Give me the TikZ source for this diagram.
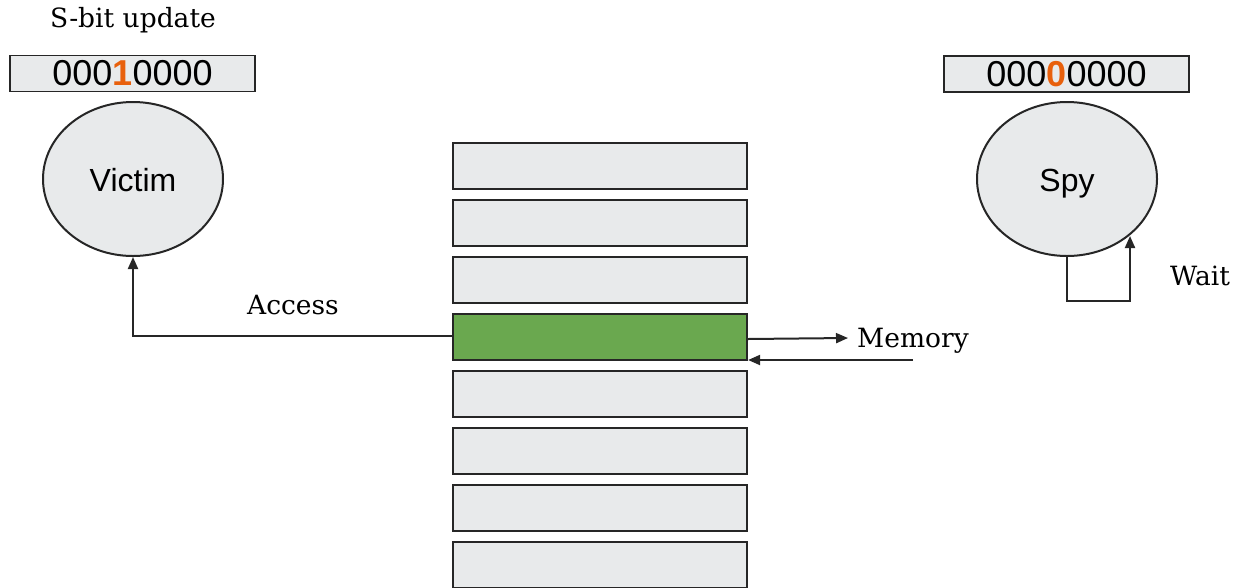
\documentclass[tikz,border=0pt]{standalone}
\usepackage{fontspec}
\setmainfont{DejaVu Serif}
\newfontfamily\arialf{Liberation Sans}
\usetikzlibrary{arrows.meta,shapes.geometric}
\definecolor{boxgray}{HTML}{E8EAEB}
\definecolor{memgreen}{HTML}{6AA84F}
\definecolor{bitorange}{HTML}{E8600C}
\tikzset{
  lbl/.style={font=\fontsize{26.5}{30}\selectfont, inner sep=0pt},
  regbox/.style={draw=black!85, line width=1.8pt, fill=boxgray, minimum width=245pt, minimum height=36pt, inner sep=0pt, font=\arialf\fontsize{36}{40}\selectfont},
  proc/.style={ellipse, draw=black!85, line width=2pt, fill=boxgray, minimum width=180pt, minimum height=154pt, inner sep=0pt, text height=30pt, text depth=6pt, font=\arialf\fontsize{32}{36}\selectfont},
  memcell/.style={draw=black!85, line width=2.2pt, fill=boxgray, minimum width=294pt, minimum height=46pt, inner sep=0pt},
  conn/.style={draw=black!85, line width=2pt, -{Triangle[length=12pt,width=10pt]}},
}
\begin{document}
\begin{tikzpicture}[x=1pt,y=-1pt]
\useasboundingbox (0,0) rectangle (1238,587);
\node[lbl] (title) at (133,20) {S-bit update};
\node[regbox] (vreg) at (132.5,73.5) {000\textbf{\color{bitorange}1}0000};
\node[regbox] (sreg) at (1066.5,74) {000\textbf{\color{bitorange}0}0000};
\node[proc] (victim) at (133,179) {Victim};
\node[proc] (spy) at (1067,179) {Spy};
\foreach \i/\y in {1/142,2/199,3/256,5/370,6/427,7/484,8/541}{
  \node[memcell, anchor=north] (m\i) at (600,\y) {};
}
\node[memcell, anchor=north, fill=memgreen] (m4) at (600,313) {};
% Access
\node[lbl] (access) at (293,305) {Access};
\coordinate (acorner) at (133,336);
\draw[conn] (m4.west |- acorner) -- (acorner) -- (victim.south);
% Memory
\node[lbl, anchor=west] (memory) at (857,341) {Memory};
\coordinate (mout) at (848,338);
\coordinate (min) at (913,360);
\draw[conn] (m4.east |- 0,339) -- (mout);
\draw[conn] (min) -- (m4.east |- min);
% Wait loop
\coordinate (w1) at (1067,301);
\coordinate (w2) at (1130,301);
\coordinate (w3) at (1130,236);
\draw[conn] (spy.south) -- (w1) -- (w2) -- (w3);
\node[lbl] (wait) at (1200,276) {Wait};
\end{tikzpicture}
\end{document}
